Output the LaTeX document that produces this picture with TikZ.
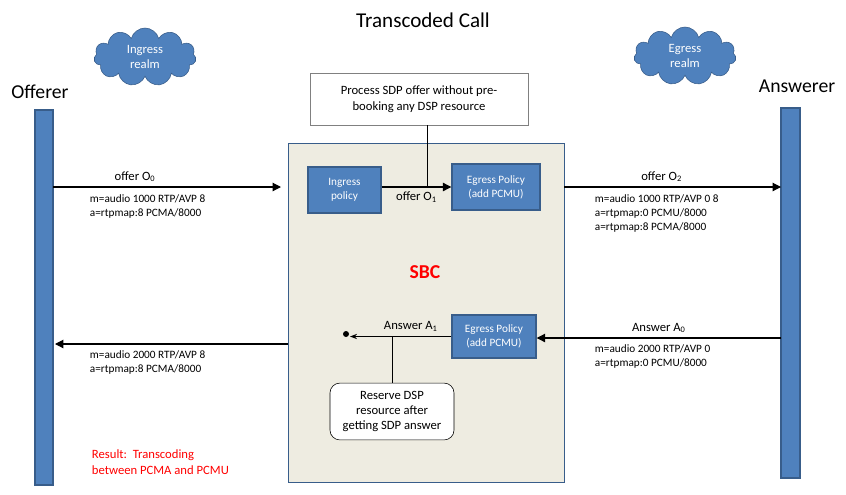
\documentclass[tikz,border=0pt]{standalone}
\usepackage{fontspec}
\setmainfont{Carlito}
\usetikzlibrary{shapes.symbols,arrows.meta}
\definecolor{boxblue}{RGB}{79,129,189}
\definecolor{edgeblue}{RGB}{56,93,138}
\definecolor{sbcfill}{RGB}{238,236,225}
\tikzset{
  policy/.style={draw=edgeblue,line width=1pt,fill=boxblue,text=white,align=center,font=\fontsize{8}{10}\selectfont,inner sep=0pt},
  realm/.style={cloud,cloud puffs=11,cloud ignores aspect,draw=edgeblue,fill=boxblue,text=white,align=center,font=\fontsize{9}{11}\selectfont,minimum width=2.55cm,minimum height=1.45cm,inner sep=0pt},
  bar/.style={draw=edgeblue,fill=boxblue,line width=0.8pt},
  msg/.style={-{Triangle[length=6pt,width=6pt]},thick},
  sdp/.style={font=\fontsize{8}{10}\selectfont,align=left},
  lbl/.style={font=\fontsize{9}{11}\selectfont}
}
\newcommand{\sub}[1]{\textsubscript{#1}}
\begin{document}
\begin{tikzpicture}[x=0.025cm,y=-0.025cm]
\useasboundingbox (0,0) rectangle (846,494);
\node[font=\fontsize{15}{17}\selectfont] (title) at (423,20) {Transcoded Call};
\node[realm] (ingr) at (145,57) {Ingress\\realm};
\node[realm] (egr) at (685,56) {Egress\\realm};
\node[font=\fontsize{14}{16}\selectfont] (off) at (40,92) {Offerer};
\node[font=\fontsize{14}{16}\selectfont] (ans) at (797,86) {Answerer};
\draw[bar] (35,110) rectangle (53,485);
\draw[bar] (781,108) rectangle (800,478);
\coordinate (offR) at (53,187);
\coordinate (offR2) at (55,344);
\coordinate (ansL) at (781,187);
\coordinate (ansL2) at (781,338);
% SBC
\draw[draw=edgeblue,fill=sbcfill] (288,143) rectangle (564,482);
\coordinate (sbcL) at (281,187);
\coordinate (sbcL2) at (288,344);
\coordinate (sbcR) at (564,187);
\node[text=red,font=\bfseries\fontsize{14}{16}\selectfont] (sbc) at (425,272) {SBC};
\node[policy,minimum width=1.82cm,minimum height=1.15cm] (ing) at (344.5,190) {Ingress\\policy};
\node[policy,minimum width=2.2cm,minimum height=1.15cm] (egtop) at (496,187) {Egress Policy\\(add PCMU)};
\node[policy,minimum width=2.1cm,minimum height=1.07cm] (egbot) at (494,336.5) {Egress Policy\\(add PCMU)};
% notes
\node[draw=gray,fill=white,align=center,lbl,minimum width=5.45cm,minimum height=1.3cm] (note1) at (419,99) {Process SDP offer without pre-\\booking any DSP resource};
\node[draw=black,fill=white,rounded corners=7pt,align=center,lbl,minimum width=3.1cm,minimum height=1.42cm,inner sep=1pt] (note2) at (392,411.5) {Reserve DSP\\resource after\\getting SDP answer};
\draw[thin] (note1.south) ++(8,0) coordinate (n1a) -- (n1a |- egtop.west);
% offer flow
\draw[msg] (offR) -- node[above,lbl,pos=0.36] (o0) {offer O\sub{0}} (sbcL);
\node[sdp,anchor=north west] (o0s) at (85,190) {m=audio 1000 RTP/AVP 8\\a=rtpmap:8 PCMA/8000};
\draw[msg] (ing.east |- egtop.west) -- node[below,lbl] (o1) {offer O\sub{1}} (egtop.west);
\draw[msg] (sbcR) -- node[above,lbl,pos=0.45] (o2) {offer O\sub{2}} (ansL);
\node[sdp,anchor=north west] (o2s) at (590,190) {m=audio 1000 RTP/AVP 0 8\\a=rtpmap:0 PCMU/8000\\a=rtpmap:8 PCMA/8000};
% answer flow
\draw[msg] (ansL2) -- node[above,lbl,pos=0.5] (a0) {Answer A\sub{0}} (egbot.east |- ansL2);
\node[sdp,anchor=north west] (a0s) at (590,340) {m=audio 2000 RTP/AVP 0\\a=rtpmap:0 PCMU/8000};
\fill (346,334) circle (3) coordinate (dot);
\draw[-{Stealth[length=5pt]},thick] (egbot.west) -- node[above,lbl,pos=0.4] (a1) {Answer A\sub{1}} (350,336.5);
\draw[thin] (392,336.5) -- (note2.north);
\draw[msg] (sbcL2) -- (offR2);
\node[sdp,anchor=north west] (a1s) at (85,346) {m=audio 2000 RTP/AVP 8\\a=rtpmap:8 PCMA/8000};
\node[text=red,lbl,align=left,anchor=north west] (res) at (87,445) {Result:\ \ Transcoding\\between PCMA and PCMU};
\end{tikzpicture}
\end{document}
